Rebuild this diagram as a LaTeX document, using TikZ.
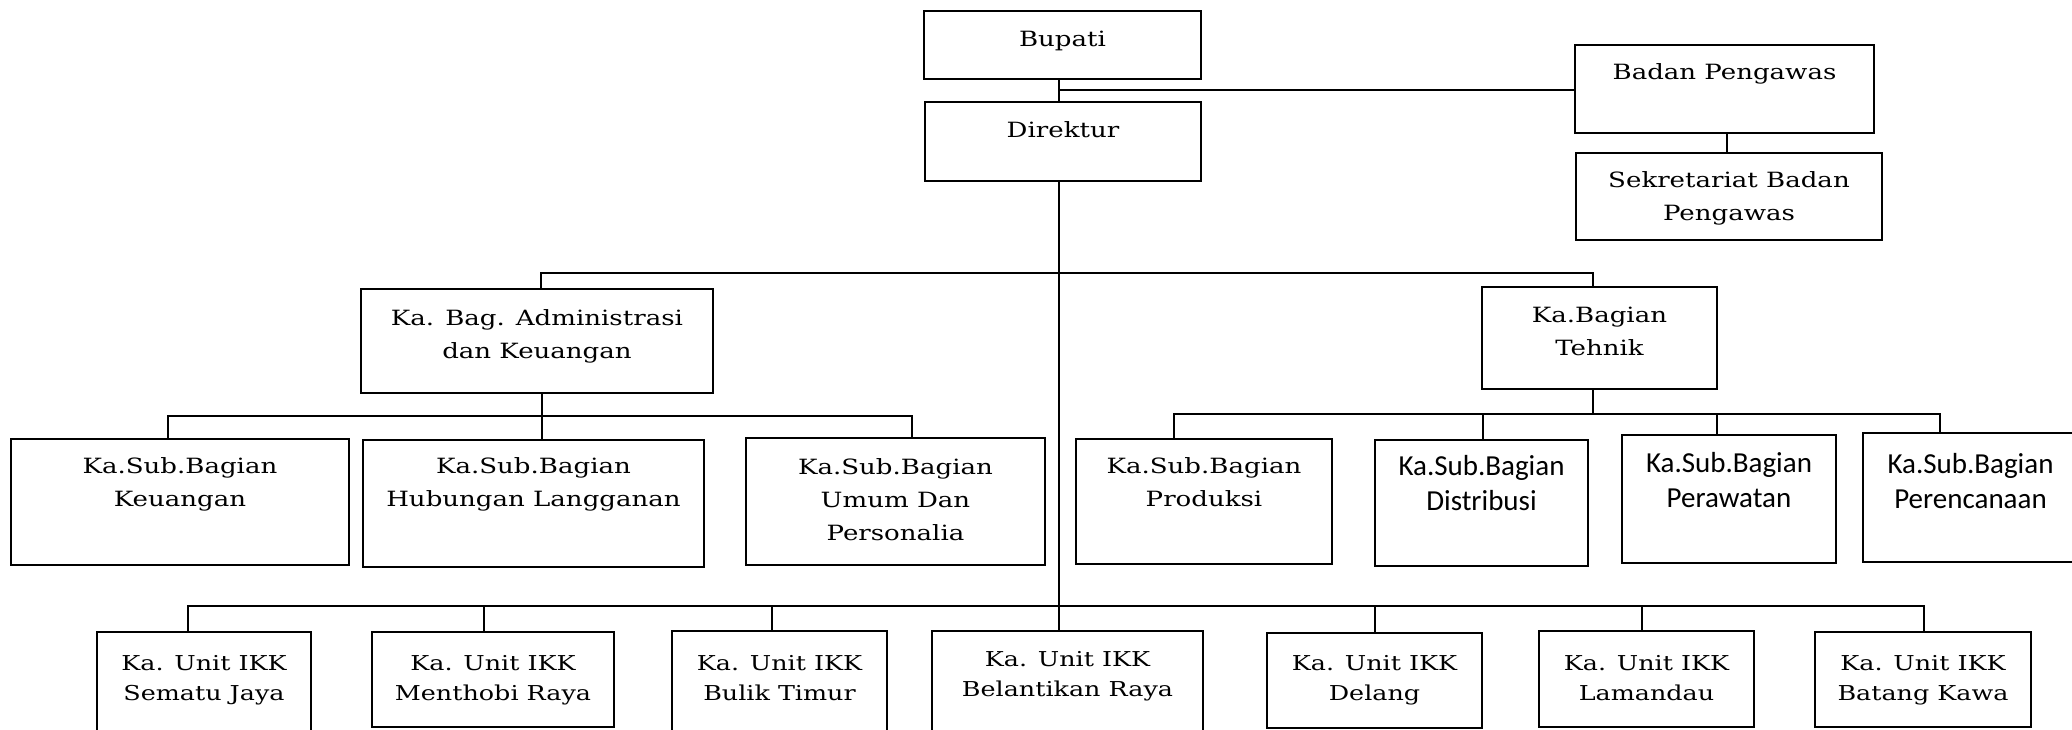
\documentclass[tikz,border=0pt]{standalone}
\usepackage{fontspec}
\newfontfamily\serifA[FakeStretch=1.24]{DejaVu Serif}
\newfontfamily\sansA{Carlito}
\newcommand{\ml}[1]{\begin{tabular}[t]{@{}c@{}}#1\end{tabular}}
\tikzset{
  box/.style={draw, line width=2pt, rectangle, inner sep=0pt, outer sep=0pt},
  conn/.style={line width=2pt},
  txt/.style={anchor=base, inner sep=0pt, text=black, font=\serifA\fontsize{21}{33}\selectfont},
  txtu/.style={anchor=base, inner sep=0pt, text=black, font=\serifA\fontsize{20.5}{30}\selectfont},
  txts/.style={anchor=base, inner sep=0pt, text=black, font=\sansA\fontsize{29}{35}\selectfont}
}
% name, x1, y1, x2, y2
\newcommand{\obox}[5]{\node[box, minimum width={(#4)-(#2)}, minimum height={(#5)-(#3)}] (#1) at ({((#2)+(#4))/2},{((#3)+(#5))/2}) {};}
% name of box, style, baseline y, text
\newcommand{\otext}[4]{\coordinate (#1-b) at (0,#3); \node[#2] (#1-t) at (#1.center |- #1-b) {\ml{#4}};}
\begin{document}
\begin{tikzpicture}[x=1pt,y=-1pt]
\useasboundingbox (0,0) rectangle (2072,730);

% top
\obox{bup}{924}{11}{1201}{79}
\otext{bup}{txt}{47}{Bupati}
\obox{dir}{925}{102}{1201}{181}
\otext{dir}{txt}{138}{Direktur}
\obox{bp}{1575}{45}{1874}{133}
\otext{bp}{txt}{80}{Badan Pengawas}
\obox{sbp}{1576}{153}{1882}{240}
\otext{sbp}{txt}{188}{Sekretariat Badan\\Pengawas}

% second level
\obox{adm}{361}{289}{713}{393}
\otext{adm}{txt}{325}{Ka. Bag. Administrasi\\dan Keuangan}
\obox{tek}{1482}{287}{1717}{389}
\otext{tek}{txt}{322}{Ka.Bagian\\Tehnik}

% third level
\obox{keu}{11}{439}{349}{565}
\otext{keu}{txt}{473}{Ka.Sub.Bagian\\Keuangan}
\obox{hub}{363}{440}{704}{567}
\otext{hub}{txt}{473}{Ka.Sub.Bagian\\Hubungan Langganan}
\obox{umu}{746}{438}{1045}{565}
\otext{umu}{txt}{474}{Ka.Sub.Bagian\\Umum Dan\\Personalia}
\obox{pro}{1076}{439}{1332}{564}
\otext{pro}{txt}{473}{Ka.Sub.Bagian\\Produksi}
\obox{dis}{1375}{440}{1588}{566}
\otext{dis}{txts}{475}{Ka.Sub.Bagian\\Distribusi}
\obox{per}{1622}{435}{1836}{563}
\otext{per}{txts}{472}{Ka.Sub.Bagian\\Perawatan}
\obox{ren}{1863}{433}{2078}{562}
\otext{ren}{txts}{473}{Ka.Sub.Bagian\\Perencanaan}

% units
\obox{sem}{97}{632}{311}{736}
\otext{sem}{txtu}{670}{Ka. Unit IKK\\Sematu Jaya}
\obox{men}{372}{632}{614}{727}
\otext{men}{txtu}{670}{Ka. Unit IKK\\Menthobi Raya}
\obox{bul}{672}{631}{887}{736}
\otext{bul}{txtu}{670}{Ka. Unit IKK\\Bulik Timur}
\obox{bel}{932}{631}{1203}{736}
\otext{bel}{txtu}{666}{Ka. Unit IKK\\Belantikan Raya}
\obox{del}{1267}{633}{1482}{728}
\otext{del}{txtu}{670}{Ka. Unit IKK\\Delang}
\obox{lam}{1539}{631}{1754}{727}
\otext{lam}{txtu}{670}{Ka. Unit IKK\\Lamandau}
\obox{bat}{1815}{632}{2031}{727}
\otext{bat}{txtu}{670}{Ka. Unit IKK\\Batang Kawa}

% bar levels
\coordinate (mb) at (0,273);
\coordinate (ab) at (0,416);
\coordinate (tb) at (0,414);
\coordinate (ub) at (0,606);
\coordinate (pb) at (0,90);

% connectors
\draw[conn] ([xshift=-3.5pt]bup.south) -- ([xshift=-4pt]dir.north);
\draw[conn] (bp.west |- pb) -- ([xshift=-3.5pt]bup.south |- pb);
\draw[conn] ([xshift=2.5pt]bp.south) -- ([xshift=2.5pt]bp.south |- sbp.north);
\draw[conn] ([xshift=-4pt]dir.south) -- ([xshift=-4pt]dir.south |- bel.north);

\draw[conn] ([xshift=4pt]adm.north) -- ([xshift=4pt]adm.north |- mb) -| ([xshift=-6.5pt]tek.north);

\draw[conn] ([xshift=4.5pt]adm.south) -- ([xshift=8pt]hub.north);
\draw[conn] ([xshift=-12pt]keu.north) -- ([xshift=-12pt]keu.north |- ab) -| ([xshift=16.5pt]umu.north);

\draw[conn] ([xshift=-6.5pt]tek.south) -- ([xshift=-6.5pt]tek.south |- tb);
\draw[conn] ([xshift=-30pt]pro.north) -- ([xshift=-30pt]pro.north |- tb) -| ([xshift=-30.5pt]ren.north);
\draw[conn] ([xshift=1.5pt]dis.north) -- ([xshift=1.5pt]dis.north |- tb);
\draw[conn] ([xshift=-12pt]per.north) -- ([xshift=-12pt]per.north |- tb);

\draw[conn] ([xshift=-16pt]sem.north) -- ([xshift=-16pt]sem.north |- ub) -| ([xshift=1pt]bat.north);
\draw[conn] ([xshift=-9pt]men.north) -- ([xshift=-9pt]men.north |- ub);
\draw[conn] ([xshift=-7.5pt]bul.north) -- ([xshift=-7.5pt]bul.north |- ub);
\draw[conn] (del.north) -- (del.north |- ub);
\draw[conn] ([xshift=-4.5pt]lam.north) -- ([xshift=-4.5pt]lam.north |- ub);
\end{tikzpicture}
\end{document}
